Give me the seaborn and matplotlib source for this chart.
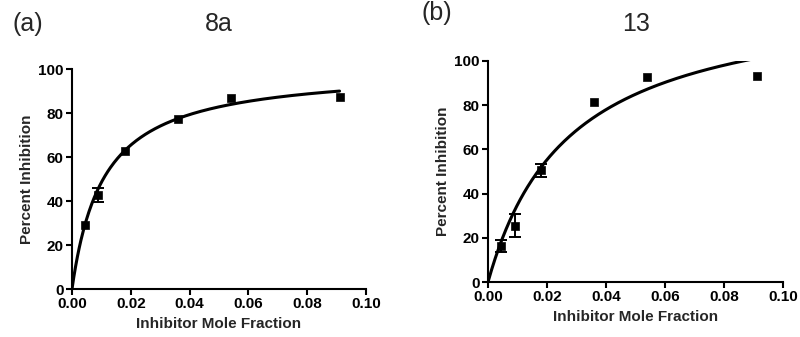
import numpy as np
import seaborn as sns
import matplotlib.pyplot as plt

# mole fractions (same for both panels)
mole_frac = [0.0045, 0.009, 0.018, 0.036, 0.054, 0.091]

# panel (a) compound 8a
inhib_8a = [29.3, 42.7, 62.9, 77.1, 87.0, 87.2]
err_8a = [np.nan, 3.0, np.nan, np.nan, np.nan, np.nan]
bmax_8a, kd_8a = 100.6, 0.01075

# panel (b) compound 13
inhib_13 = [16.2, 25.5, 50.5, 81.5, 92.8, 93.2]
err_13 = [2.7, 5.2, 3.1, np.nan, np.nan, np.nan]
bmax_13, kd_13 = 132.1, 0.02773

panel_tags = ["(a)", "(b)"]
panel_titles = ["8a", "13"]

sns.set_style("ticks")
plt.rcParams['font.family'] = ['Liberation Sans', 'DejaVu Sans']

fig = plt.figure(figsize=(8, 3.37), dpi=100)
ax_a = fig.add_axes([0.09, 0.1424, 0.3675, 0.6528])
ax_b = fig.add_axes([0.61, 0.1632, 0.369, 0.6558])


def draw_panel(ax, y, err, bmax, kd):
    xfit = np.linspace(0, max(mole_frac), 300)
    yfit = bmax * xfit / (kd + xfit)
    sns.lineplot(x=xfit, y=yfit, ax=ax, color='black', linewidth=2.2)
    ax.errorbar(mole_frac, y, yerr=err, fmt='none', ecolor='black',
                elinewidth=1.4, capsize=4, capthick=1.4)
    sns.scatterplot(x=mole_frac, y=y, ax=ax, marker='s', color='black',
                    s=36, edgecolor='black', zorder=5)
    ax.set_xlim(0, 0.1)
    ax.set_ylim(0, 100)
    ax.set_xticks(np.arange(0, 0.101, 0.02))
    ax.set_yticks(np.arange(0, 101, 20))
    ax.set_xticklabels([f"{t:.2f}" for t in np.arange(0, 0.101, 0.02)])
    ax.set_xlabel("Inhibitor Mole Fraction", fontsize=11, fontweight='bold', labelpad=4)
    ax.set_ylabel("Percent Inhibition", fontsize=11, fontweight='bold', labelpad=3)
    ax.tick_params(labelsize=11, width=1.5, length=4, colors='black', pad=2)
    for lab in ax.get_xticklabels() + ax.get_yticklabels():
        lab.set_fontweight('bold')
    sns.despine(ax=ax)
    for side in ['left', 'bottom']:
        ax.spines[side].set_linewidth(1.5)
        ax.spines[side].set_color('black')


draw_panel(ax_a, inhib_8a, err_8a, bmax_8a, kd_8a)
draw_panel(ax_b, inhib_13, err_13, bmax_13, kd_13)

fig.text(0.015, 0.93, panel_tags[0], fontsize=18, va='center', ha='left')
fig.text(0.273, 0.93, panel_titles[0], fontsize=18, va='center', ha='center')
fig.text(0.527, 0.96, panel_tags[1], fontsize=18, va='center', ha='left')
fig.text(0.795, 0.93, panel_titles[1], fontsize=18, va='center', ha='center')

fig.savefig("out.png", dpi=100)
